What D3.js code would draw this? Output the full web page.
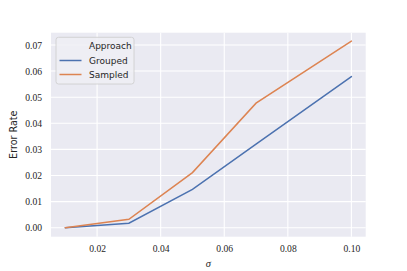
<!DOCTYPE html>
<html>
<head>
<meta charset="utf-8">
<script src="https://cdn.jsdelivr.net/npm/d3@7"></script>
<style>
  html, body { margin:0; padding:0; background:#fff; }
  svg text { fill:#262626; }
</style>
</head>
<body>
<svg id="chart" width="407" height="271"></svg>
<script>
// sigma values and error rates
const sigmas = [0.01, 0.03, 0.05, 0.07, 0.10];
const grouped = [0.0, 0.0017, 0.0147, 0.032, 0.0579];
const sampled = [0.0, 0.0032, 0.0211, 0.0477, 0.0715];
const xTicks = [0.02, 0.04, 0.06, 0.08, 0.10];
const yTicks = [0.00, 0.01, 0.02, 0.03, 0.04, 0.05, 0.06, 0.07];
const seriesNames = ['Grouped', 'Sampled'];
const colors = ['#4C72B0', '#DD8452'];

const svg = d3.select('#chart');
const pL = 51, pR = 365.7, pT = 32.7, pB = 236.7;
const serif = '"Liberation Serif", "DejaVu Serif", serif';
const sans = '"DejaVu Sans", "Liberation Sans", sans-serif';

const x = d3.scaleLinear().domain([0.0055, 0.1045]).range([pL, pR]);
const y = d3.scaleLinear().domain([-0.00345, 0.0747]).range([pB, pT]);

svg.append('rect')
  .attr('x', pL).attr('y', pT)
  .attr('width', pR - pL).attr('height', pB - pT)
  .attr('fill', '#EAEAF2');

// grid
const grid = svg.append('g');
grid.selectAll('line.gx').data(xTicks).join('line')
  .attr('x1', d => x(d)).attr('x2', d => x(d))
  .attr('y1', pT).attr('y2', pB)
  .attr('stroke', '#fff').attr('stroke-width', 1.1);
grid.selectAll('line.gy').data(yTicks).join('line')
  .attr('y1', d => y(d)).attr('y2', d => y(d))
  .attr('x1', pL).attr('x2', pR)
  .attr('stroke', '#fff').attr('stroke-width', 1.1);

// tick labels via axes with no ticks/domain
const xAxis = svg.append('g')
  .attr('transform', 'translate(0,' + (pB + 3) + ')')
  .call(d3.axisBottom(x).tickValues(xTicks).tickFormat(d3.format('.2f')).tickSize(0).tickPadding(5));
const yAxis = svg.append('g')
  .attr('transform', 'translate(' + (pL - 3) + ',0)')
  .call(d3.axisLeft(y).tickValues(yTicks).tickFormat(d3.format('.2f')).tickSize(0).tickPadding(6));
[xAxis, yAxis].forEach(a => {
  a.select('.domain').remove();
  a.selectAll('text').style('font-family', serif).style('font-size', '9.6px').attr('fill', '#262626');
});

// axis titles
svg.append('text')
  .attr('x', (pL + pR) / 2).attr('y', 267)
  .attr('text-anchor', 'middle')
  .style('font-family', serif).style('font-style', 'italic').style('font-size', '10.5px')
  .text('σ');
svg.append('text')
  .attr('transform', 'translate(17,' + ((pT + pB) / 2) + ') rotate(-90)')
  .attr('text-anchor', 'middle')
  .style('font-family', sans).style('font-size', '9.6px')
  .text('Error Rate');

// lines
const line = d3.line().x((d, i) => x(sigmas[i])).y(d => y(d));
[grouped, sampled].forEach((vals, k) => {
  svg.append('path')
    .datum(vals)
    .attr('d', line)
    .attr('fill', 'none')
    .attr('stroke', colors[k])
    .attr('stroke-width', 1.5)
    .attr('stroke-linecap', 'round');
});

// legend
const lg = svg.append('g');
lg.append('rect')
  .attr('x', 56).attr('y', 37.3).attr('width', 78).attr('height', 46.7)
  .attr('rx', 2.5)
  .attr('fill', '#EEEEF4').attr('fill-opacity', 0.85)
  .attr('stroke', '#cccccc').attr('stroke-width', 0.8);
lg.append('text')
  .attr('x', 89).attr('y', 49)
  .style('font-family', sans).style('font-size', '9px')
  .text('Approach');
seriesNames.forEach((name, i) => {
  const cy = 60.5 + i * 14;
  lg.append('line')
    .attr('x1', 59.5).attr('x2', 81.5).attr('y1', cy).attr('y2', cy)
    .attr('stroke', colors[i]).attr('stroke-width', 1.5);
  lg.append('text')
    .attr('x', 89).attr('y', cy + 3.3)
    .style('font-family', sans).style('font-size', '9px')
    .text(name);
});
</script>
</body>
</html>
